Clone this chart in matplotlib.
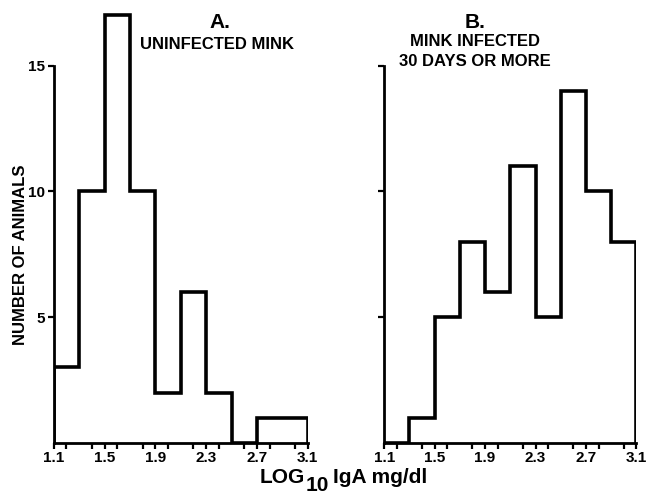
import matplotlib
matplotlib.use("Agg")
import matplotlib.pyplot as plt
from matplotlib.ticker import MultipleLocator

plt.rcParams["font.family"] = ["Liberation Sans", "DejaVu Sans"]
plt.rcParams["font.weight"] = "bold"

# bin edges of log10 IgA (mg/dl)
bin_edges = [1.1, 1.3, 1.5, 1.7, 1.9, 2.1, 2.3, 2.5, 2.7, 2.9, 3.1]
x_ticks = [1.1, 1.5, 1.9, 2.3, 2.7, 3.1]
y_ticks = [5, 10, 15]

# number of animals per bin
uninfected_counts = [3, 10, 17, 10, 2, 6, 2, 0, 1, 1]
infected_counts = [0, 1, 5, 8, 6, 11, 5, 14, 10, 8]

fig = plt.figure(figsize=(6.48, 4.96), dpi=100)
ax_a = fig.add_axes([0.083, 0.107, 0.392, 0.872])
ax_b = fig.add_axes([0.593, 0.107, 0.389, 0.872])


def style_axes(ax, counts, show_labels):
    ax.stairs(counts, bin_edges, baseline=0, color="black", lw=2.6)
    ax.set_xlim(1.1, 3.1)
    ax.set_ylim(0, 17.2)
    ax.spines["top"].set_visible(False)
    ax.spines["right"].set_visible(False)
    ax.spines["left"].set_bounds(0, 15)
    ax.spines["left"].set_linewidth(2)
    ax.spines["bottom"].set_linewidth(2)
    ax.set_xticks(x_ticks)
    ax.set_xticklabels([f"{t:.1f}" for t in x_ticks])
    ax.xaxis.set_minor_locator(MultipleLocator(0.2))
    ax.set_yticks(y_ticks)
    if not show_labels:
        ax.set_yticklabels([])
    ax.tick_params(axis="both", which="both", length=4, width=1.6, pad=2,
                   labelsize=11)
    ax.patch.set_visible(False)


style_axes(ax_a, uninfected_counts, True)
style_axes(ax_b, infected_counts, False)

# panel headings
fig.text(0.340, 0.955, "A.", ha="center", va="center", fontsize=15, fontweight="bold")
fig.text(0.335, 0.911, "UNINFECTED MINK", ha="center", va="center", fontsize=12,
         fontweight="bold")
fig.text(0.733, 0.955, "B.", ha="center", va="center", fontsize=15, fontweight="bold")
fig.text(0.733, 0.917, "MINK INFECTED", ha="center", va="center", fontsize=12,
         fontweight="bold")
fig.text(0.733, 0.877, "30 DAYS OR MORE", ha="center", va="center", fontsize=12,
         fontweight="bold")

fig.text(0.031, 0.486, "NUMBER OF ANIMALS", rotation=90, ha="center", va="center",
         fontsize=12, fontweight="bold")

# x label with subscript
fig.text(0.471, 0.026, "LOG", ha="right", va="baseline", fontsize=15, fontweight="bold")
fig.text(0.472, 0.010, "10", ha="left", va="baseline", fontsize=15, fontweight="bold")
fig.text(0.514, 0.026, "IgA mg/dl", ha="left", va="baseline", fontsize=15,
         fontweight="bold")

fig.savefig("out.png", dpi=100)
